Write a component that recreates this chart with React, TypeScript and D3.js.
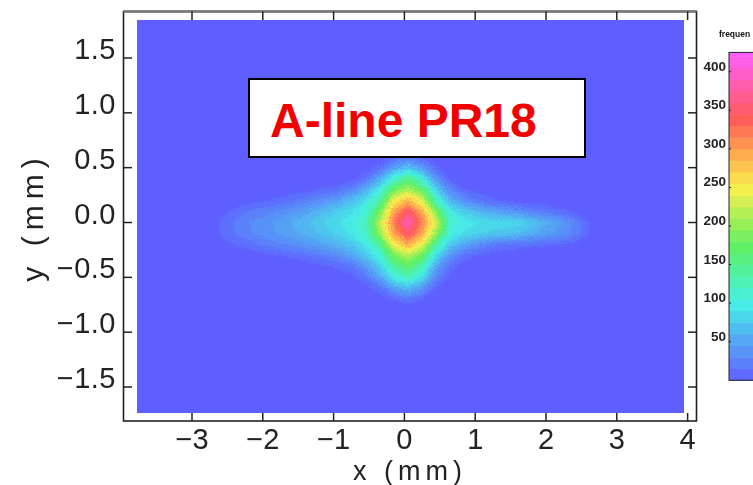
import React from "react";
import * as d3 from "d3";

const xTicks = [-3, -2, -1, 0, 1, 2, 3, 4];
const yTicks = [-1.5, -1.0, -0.5, 0.0, 0.5, 1.0, 1.5];
const barTicks = [50, 100, 150, 200, 250, 300, 350, 400];
const colorStops = [0, 50, 100, 140, 175, 215, 250, 295, 340, 385, 425];
const colorValues = ["#5f5fff", "#55a5f5", "#45f0e5", "#50f0a0", "#60f060", "#b0f055", "#fbf050", "#ffa850", "#ff5a5a", "#ff5cb0", "#ff5fff"];

// density: rows y = 0.9 … -0.9 (step 0.1), cols x = -2.9 … 3.1 (step 0.2)
const gridX0 = -2.95, gridDx = 0.2, gridY0 = 0.9, gridDy = -0.1;
const density = [
  [0,0,0,0,0,0,0,0,0,0,0,0,0,0,0,0,0,0,0,0,0,0,0,0,0,0,0,0,0,0,0],
  [0,0,0,0,0,0,0,0,0,0,0,0,0,0,0,0,0,0,0,0,0,0,0,0,0,0,0,0,0,0,0],
  [0,0,0,0,0,0,0,0,0,0,0,0,0,0,0,3,0,0,0,0,0,0,0,0,0,0,0,0,0,0,0],
  [0,0,0,0,0,0,0,0,0,0,0,0,0,2,12,22,10,2,0,0,0,0,0,0,0,0,0,0,0,0,0],
  [0,0,0,0,0,0,0,0,0,0,0,0,4,18,52,78,50,14,2,0,0,0,0,0,0,0,0,0,0,0,0],
  [0,0,0,0,0,0,0,0,0,0,0,6,22,62,118,158,112,44,10,0,0,0,0,0,0,0,0,0,0,0,0],
  [0,0,0,0,0,0,2,6,8,14,20,34,62,102,185,222,178,82,34,12,6,0,0,0,0,0,0,0,0,0,0],
  [0,0,0,3,8,12,16,24,32,42,54,72,96,142,255,292,245,128,66,40,24,14,8,4,2,0,0,0,0,0,0],
  [0,0,8,18,26,32,38,48,58,70,82,94,112,188,305,358,298,190,102,82,68,56,50,40,30,24,14,6,0,0,0],
  [0,4,16,28,38,46,52,62,72,84,94,104,130,224,325,405,320,240,118,102,96,92,92,88,76,60,48,30,8,0,0],
  [0,3,16,28,36,44,50,58,66,76,86,98,122,205,305,360,300,205,108,94,88,80,76,70,60,50,42,28,6,0,0],
  [0,0,6,14,20,28,34,40,48,56,66,80,100,150,255,298,248,140,80,56,38,26,22,20,16,14,12,6,0,0,0],
  [0,0,0,0,4,8,12,16,22,28,38,54,78,112,190,225,182,92,44,18,10,4,0,0,0,0,0,0,0,0,0],
  [0,0,0,0,0,0,0,2,5,8,14,24,48,84,145,176,134,56,18,5,0,0,0,0,0,0,0,0,0,0,0],
  [0,0,0,0,0,0,0,0,0,0,3,8,24,58,105,132,96,34,8,0,0,0,0,0,0,0,0,0,0,0,0],
  [0,0,0,0,0,0,0,0,0,0,0,0,6,20,54,70,46,12,0,0,0,0,0,0,0,0,0,0,0,0,0],
  [0,0,0,0,0,0,0,0,0,0,0,0,0,4,14,24,12,3,0,0,0,0,0,0,0,0,0,0,0,0,0],
  [0,0,0,0,0,0,0,0,0,0,0,0,0,0,0,0,0,0,0,0,0,0,0,0,0,0,0,0,0,0,0],
  [0,0,0,0,0,0,0,0,0,0,0,0,0,0,0,0,0,0,0,0,0,0,0,0,0,0,0,0,0,0,0],
];

const FONT = "'Liberation Sans', Arial, sans-serif";

export default function App() {
  const x = d3.scaleLinear().domain([-3, 4]).range([192, 687.6]);
  const y = d3.scaleLinear().domain([-1.5, 1.5]).range([387, 58]);
  const bar = d3.scaleLinear().domain([50, 400]).range([341.7, 71.7]);
  const color = d3.scaleLinear<string>().domain(colorStops).range(colorValues).clamp(true);

  const rows = density.length, cols = density[0].length;
  const thresholds = d3.range(12, 420, 12);
  const contours = d3.contours().size([cols, rows]).smooth(true).thresholds(thresholds)(density.flat());
  const path = d3.geoPath(d3.geoTransform({
    point(gx: number, gy: number) {
      (this as any).stream.point(
        x(gridX0 + (gx - 0.5) * gridDx),
        y(gridY0 + (gy - 0.5) * gridDy)
      );
    },
  }));

  const barBands = d3.range(0, 425, 15);
  const left = 123.5, right = 696.5, top = 11.5, bottom = 421;

  return (
    <svg width={753} height={485} style={{ position: "absolute", left: 0, top: 0, background: "#fff" }}>
      <defs>
        <filter id="grain" x="0" y="0" width="100%" height="100%">
          <feTurbulence type="fractalNoise" baseFrequency="0.7" numOctaves={2} seed={4} result="n" />
          <feDisplacementMap in="SourceGraphic" in2="n" scale={11} xChannelSelector="R" yChannelSelector="G" result="d" />
          <feGaussianBlur in="d" stdDeviation={0.45} />
        </filter>
        <filter id="soft"><feGaussianBlur stdDeviation={0.45} /></filter>
        <filter id="softer"><feGaussianBlur stdDeviation={0.55} /></filter>
        <clipPath id="plotClip"><rect x={137} y={20} width={547} height={393} /></clipPath>
      </defs>

      <g clipPath="url(#plotClip)">
        <rect x={137} y={20} width={547} height={393} fill="#5f5fff" />
        <g filter="url(#grain)">
          {contours.map((c, i) => (
            <path key={i} d={path(c as any) || ""} fill={color(c.value)} />
          ))}
        </g>
      </g>

      <g filter="url(#soft)">
        <rect x={left} y={top} width={right - left} height={bottom - top} fill="none" stroke="#222" strokeWidth={1.6} />
        <line x1={left} x2={right} y1={top} y2={top} stroke="#777" strokeWidth={2.4} />
        {xTicks.map((t) => (
          <g key={t}>
            <line x1={x(t)} x2={x(t)} y1={top} y2={20} stroke="#222" strokeWidth={1.5} />
            <line x1={x(t)} x2={x(t)} y1={bottom} y2={413} stroke="#222" strokeWidth={1.5} />
          </g>
        ))}
        {yTicks.map((t) => (
          <g key={t}>
            <line x1={left} x2={132} y1={y(t)} y2={y(t)} stroke="#222" strokeWidth={1.5} />
            <line x1={right} x2={688} y1={y(t)} y2={y(t)} stroke="#222" strokeWidth={1.5} />
          </g>
        ))}
        <g fontFamily={FONT} fontSize={29} fill="#222">
          {xTicks.map((t) => (
            <text key={t} x={x(t)} y={449} textAnchor="middle">
              {t < 0 ? "\u2212" + Math.abs(t) : t}
            </text>
          ))}
          {yTicks.map((t) => (
            <text key={t} x={116} y={y(t) + 1} textAnchor="end" letterSpacing={0.5}>
              {(t < 0 ? "\u2212" : "") + Math.abs(t).toFixed(1)}
            </text>
          ))}
          <text x={410} y={480} textAnchor="middle" fontSize={27} letterSpacing={5}>x (mm)</text>
          <text transform="translate(43,217) rotate(-90)" textAnchor="middle" fontSize={30} letterSpacing={6}>y (mm)</text>
        </g>
      </g>

      <rect x={249} y={79} width={336} height={78} fill="#fff" stroke="#000" strokeWidth={2} />
      <text x={270} y={137} fontFamily={FONT} fontSize={48} fontWeight="bold" fill="#f00000">A-line PR18</text>

      <g filter="url(#softer)">
        {barBands.map((b) => (
          <rect key={b} x={729} width={24}
            y={bar(Math.min(b + 15, 425))} height={bar(b) - bar(Math.min(b + 15, 425)) + 0.5}
            fill={color(b + 7.5)} />
        ))}
        <rect x={729} y={bar(425)} width={26} height={bar(0) - bar(425)} fill="none" stroke="#222" strokeWidth={1} />
        {barTicks.map((t) => (
          <g key={t}>
            <line x1={729} x2={731} y1={bar(t)} y2={bar(t)} stroke="#222" />
            <text x={726} y={bar(t) - 1} textAnchor="end" fontFamily={FONT} fontSize={13.5} fontWeight="bold" fill="#222">{t}</text>
          </g>
        ))}
        <text x={719} y={37} fontFamily={FONT} fontSize={8.5} fontWeight="bold" fill="#111">frequen</text>
      </g>
    </svg>
  );
}
